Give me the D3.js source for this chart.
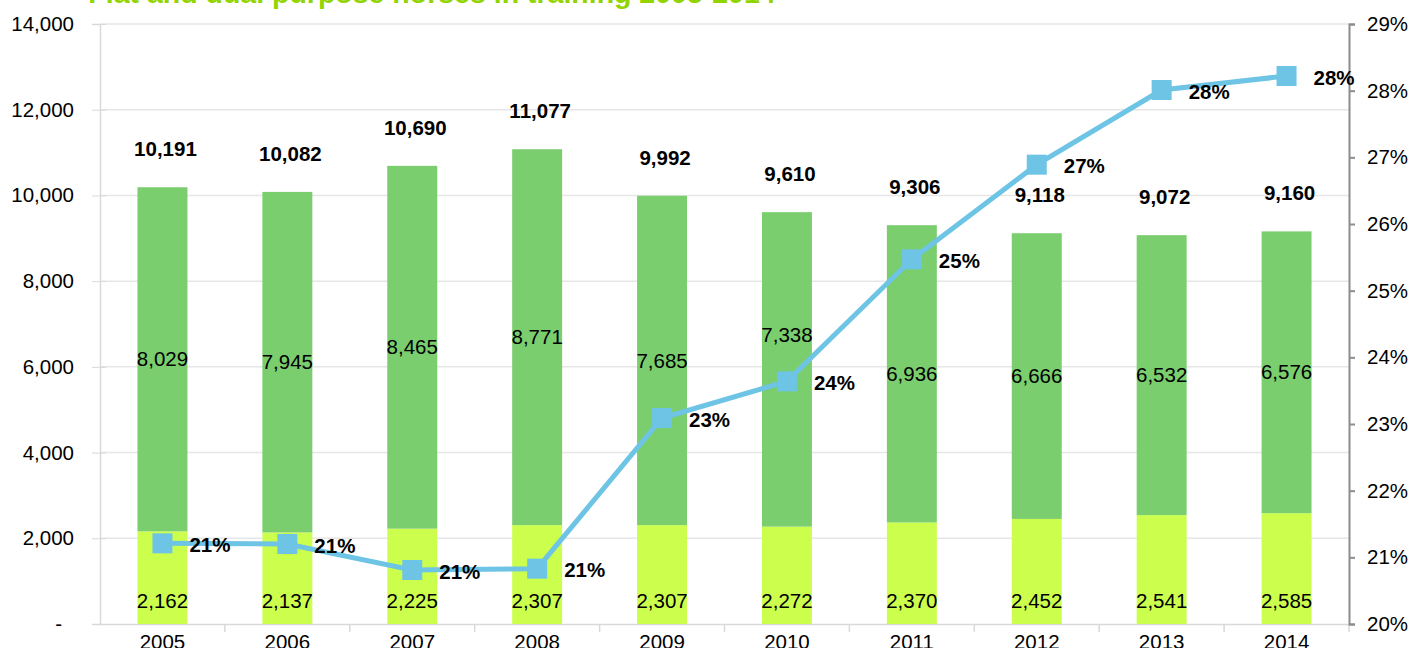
<!DOCTYPE html>
<html>
<head>
<meta charset="utf-8">
<script src="https://cdn.jsdelivr.net/npm/d3@7"></script>
<style>
  body { margin: 0; background: #fff; }
  text { font-family: "Liberation Sans", Arial, sans-serif; }
</style>
</head>
<body>
<svg id="chart"></svg>
<script>
const years = ["2005", "2006", "2007", "2008", "2009", "2010", "2011", "2012", "2013", "2014"];
const lowerVals = [2162, 2137, 2225, 2307, 2307, 2272, 2370, 2452, 2541, 2585];
const upperVals = [8029, 7945, 8465, 8771, 7685, 7338, 6936, 6666, 6532, 6576];
const totalVals = [10191, 10082, 10690, 11077, 9992, 9610, 9306, 9118, 9072, 9160];
const shareVals = [21.21, 21.2, 20.81, 20.83, 23.09, 23.64, 25.47, 26.89, 28.01, 28.22];
const leftTicks = [0, 2000, 4000, 6000, 8000, 10000, 12000, 14000];
const rightTicks = [20, 21, 22, 23, 24, 25, 26, 27, 28, 29];
const title = "Flat and dual purpose horses in training 2005-2014";

const W = 1413, H = 648;
const margin = { top: 24, right: 64, bottom: 24, left: 100 };
const width = W - margin.left - margin.right;
const height = H - margin.top - margin.bottom;

const svg = d3.select("#chart").attr("width", W).attr("height", H);

const x = d3.scaleBand()
    .domain(years)
    .range([margin.left, margin.left + width])
    .paddingInner(0.6)
    .paddingOuter(0.3);
const y = d3.scaleLinear().domain([0, 14000]).range([margin.top + height, margin.top]);
const yR = d3.scaleLinear().domain([20, 29]).range([margin.top + height, margin.top]);

const data = years.map((yr, i) => ({
  year: yr, lower: lowerVals[i], upper: upperVals[i], total: totalVals[i], share: shareVals[i]
}));

// gridlines
svg.append("g").selectAll("line")
    .data(leftTicks.slice(1))
  .enter().append("line")
    .attr("x1", margin.left).attr("x2", margin.left + width)
    .attr("y1", d => y(d)).attr("y2", d => y(d))
    .attr("stroke", "#e6e6e6").attr("stroke-width", 1.5);

// left axis
const leftAxis = svg.append("g")
    .attr("transform", `translate(${margin.left},0)`)
    .call(d3.axisLeft(y).tickValues(leftTicks).tickSize(8).tickPadding(18)
      .tickFormat(d => d === 0 ? "-" : d3.format(",")(d)));
leftAxis.select(".domain").attr("stroke", "#d9d9d9").attr("stroke-width", 1.5);
leftAxis.selectAll(".tick line").attr("stroke", "#d9d9d9").attr("x2", 6).attr("x1", -8);
leftAxis.selectAll(".tick text").attr("font-size", 20.5).attr("fill", "#000")
    .attr("dx", d => d === 0 ? -12 : 0);

// bottom axis
const bottomAxis = svg.append("g")
    .attr("transform", `translate(0,${margin.top + height})`)
    .call(d3.axisBottom(x).tickSize(0).tickPadding(10));
bottomAxis.select(".domain").attr("stroke", "#d9d9d9").attr("stroke-width", 1.5);
bottomAxis.selectAll(".tick text").attr("font-size", 20.5).attr("fill", "#000");
bottomAxis.selectAll(".sep")
    .data(years)
  .enter().append("line")
    .attr("class", "sep")
    .attr("x1", (d, i) => margin.left + x.step() * (i + 1))
    .attr("x2", (d, i) => margin.left + x.step() * (i + 1))
    .attr("y1", 0).attr("y2", 8)
    .attr("stroke", "#d9d9d9").attr("stroke-width", 1.5);

// right axis
const rightAxis = svg.append("g")
    .attr("transform", `translate(${margin.left + width},0)`)
    .call(d3.axisRight(yR).tickValues(rightTicks).tickSize(6).tickPadding(12)
      .tickFormat(d => d + "%"));
rightAxis.select(".domain").attr("stroke", "#8c8c8c").attr("stroke-width", 2);
rightAxis.selectAll(".tick line").attr("stroke", "#8c8c8c").attr("stroke-width", 2);
rightAxis.selectAll(".tick text").attr("font-size", 20.5).attr("fill", "#000");

// bars
svg.append("g").selectAll("rect")
    .data(data)
  .enter().append("rect")
    .attr("x", d => x(d.year))
    .attr("width", x.bandwidth())
    .attr("y", d => y(d.lower))
    .attr("height", d => y(0) - y(d.lower))
    .attr("fill", "#ccff4d");

svg.append("g").selectAll("rect")
    .data(data)
  .enter().append("rect")
    .attr("x", d => x(d.year))
    .attr("width", x.bandwidth())
    .attr("y", d => y(d.lower + d.upper))
    .attr("height", d => y(d.lower) - y(d.lower + d.upper))
    .attr("fill", "#7ace6e");

const cx = d => x(d.year) + x.bandwidth() / 2;

// bar labels
svg.append("g").selectAll("text")
    .data(data)
  .enter().append("text")
    .attr("x", cx)
    .attr("y", y(0) - 16)
    .attr("text-anchor", "middle")
    .attr("font-size", 20.5)
    .text(d => d3.format(",")(d.lower));

svg.append("g").selectAll("text")
    .data(data)
  .enter().append("text")
    .attr("x", cx)
    .attr("y", d => {
      const mid = (y(d.lower) + y(d.lower + d.upper)) / 2;
      const py = yR(d.share);
      return Math.abs(mid - py) < 30 ? py - 47 : mid;
    })
    .attr("dy", "0.35em")
    .attr("text-anchor", "middle")
    .attr("font-size", 20.5)
    .text(d => d3.format(",")(d.upper));

svg.append("g").selectAll("text")
    .data(data)
  .enter().append("text")
    .attr("x", d => cx(d) + 3)
    .attr("y", d => y(d.total) - 31)
    .attr("text-anchor", "middle")
    .attr("font-size", 20.5)
    .attr("font-weight", "bold")
    .text(d => d3.format(",")(d.total));

// share line
const line = d3.line().x(cx).y(d => yR(d.share));
svg.append("path")
    .datum(data)
    .attr("d", line)
    .attr("fill", "none")
    .attr("stroke", "#6ec4e4")
    .attr("stroke-width", 5);

svg.append("g").selectAll("rect")
    .data(data)
  .enter().append("rect")
    .attr("x", d => cx(d) - 10)
    .attr("y", d => yR(d.share) - 10)
    .attr("width", 20)
    .attr("height", 20)
    .attr("fill", "#6ec4e4");

svg.append("g").selectAll("text")
    .data(data)
  .enter().append("text")
    .attr("x", d => cx(d) + 27)
    .attr("y", d => yR(d.share))
    .attr("dy", "0.42em")
    .attr("font-size", 20.5)
    .attr("font-weight", "bold")
    .text(d => Math.round(d.share) + "%");

// title (partly cut at the top)
svg.append("text")
    .attr("x", 432)
    .attr("y", 3)
    .attr("text-anchor", "middle")
    .attr("font-size", 28.5)
    .attr("font-weight", "bold")
    .attr("fill", "#92d400")
    .text(title);
</script>
</body>
</html>
